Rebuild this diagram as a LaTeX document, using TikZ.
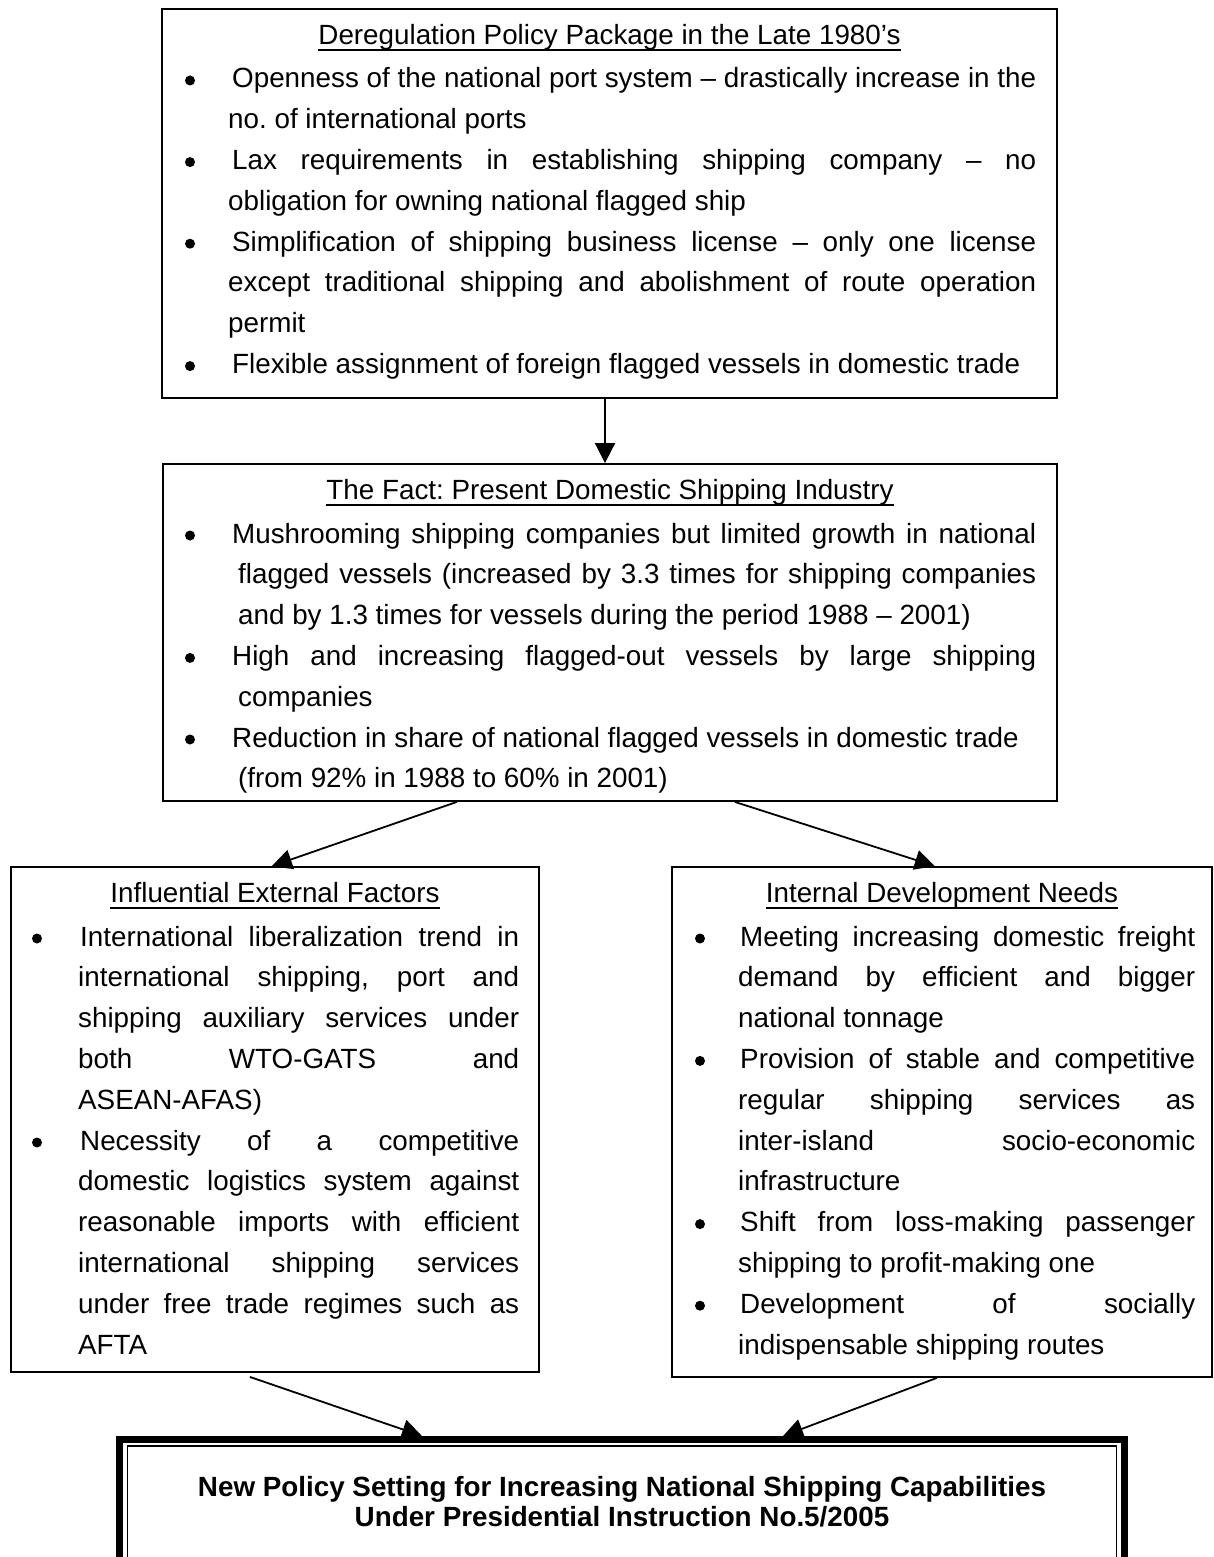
\documentclass[tikz,border=0pt]{standalone}
\usepackage{fontspec}
\setmainfont{Liberation Sans}
\usetikzlibrary{arrows.meta,calc}
\frenchspacing

% underlined heading with a fixed rule offset
\newcommand\hd[1]{\setbox2\hbox{#1}\rlap{\rule[-6.5pt]{\wd2}{2pt}}\box2}
% lines of a bulleted body: first line of an item / continuation; "x" = ragged end
\newlength\firstin
\newcommand\bl[1]{\hbox to\hsize{\hskip\firstin #1}}
\newcommand\blx[1]{\hbox to\hsize{\hskip\firstin #1\hfil}}
\newcommand\cl[1]{\hbox to\hsize{#1}}
\newcommand\clx[1]{\hbox to\hsize{#1\hfil}}
\newcommand\bodytext[3]{\vtop{\hsize=#1\relax\firstin=#2\relax
  \baselineskip=40.8pt\lineskiplimit=-1000pt\hbadness=10000 #3}}

\begin{document}
\begin{tikzpicture}[x=1pt,y=-1pt,
  every node/.style={font=\fontsize{27.8}{40.8}\selectfont, inner sep=0pt},
  box/.style={draw, line width=1.8pt, rectangle},
  arr/.style={line width=1.8pt, -{Triangle[length=20pt,width=20pt]}},
  dot/.style={fill=black}]
\useasboundingbox (0,0) rectangle (1214,1557);
\fill[white] (0,0) rectangle (1214,1557);
\clip (0,0) rectangle (1214,1557);

% ---------- boxes ----------
\node[box, minimum width=895pt, minimum height=389pt] (dereg) at (609.5,203.5) {};
\node[box, minimum width=894pt, minimum height=337pt] (fact) at (610,632.5) {};
\node[box, minimum width=528pt, minimum height=505pt] (ext) at (275,1119.5) {};
\node[box, minimum width=540pt, minimum height=510pt] (int) at (942,1122) {};
\node[draw, line width=7pt, minimum width=1005pt, minimum height=160pt] (policy) at (622,1519.5) {};
\draw[line width=1.8pt] ([shift={(11.5pt,-10pt)}]policy.north west)
  rectangle ([shift={(-11.5pt,10pt)}]policy.south east);

% ---------- headings ----------
\node[anchor=base] (h1) at (609.5,44.5) {\hd{Deregulation Policy Package in the Late 1980’s}};
\node[anchor=base] (h2) at (610,499.5) {\hd{The Fact: Present Domestic Shipping Industry}};
\node[anchor=base] (h3) at (275,902.5) {\hd{Influential External Factors}};
\node[anchor=base] (h4) at (942,902.5) {\hd{Internal Development Needs}};

% ---------- bodies ----------
\node[anchor=base west] (t1) at (228,88) {\bodytext{808pt}{4pt}{%
\bl{Openness of the national port system – drastically increase in the}
\clx{no. of international ports}
\bl{Lax requirements in establishing shipping company – no}
\clx{obligation for owning national flagged ship}
\bl{Simplification of shipping business license – only one license}
\cl{except traditional shipping and abolishment of route operation}
\clx{permit}
\blx{Flexible assignment of foreign flagged vessels in domestic trade}}};

\node[anchor=base west] (t2) at (238,543) {\bodytext{798pt}{-6pt}{%
\bl{Mushrooming shipping companies but limited growth in national}
\cl{flagged vessels (increased by 3.3 times for shipping companies}
\clx{and by 1.3 times for vessels during the period 1988 – 2001)}
\bl{High and increasing flagged-out vessels by large shipping}
\clx{companies}
\blx{Reduction in share of national flagged vessels in domestic trade}
\clx{(from 92\% in 1988 to 60\% in 2001)}}};

\node[anchor=base west] (t3) at (78,946) {\bodytext{441pt}{2pt}{%
\bl{International liberalization trend in}
\cl{international shipping, port and}
\cl{shipping auxiliary services under}
\cl{both WTO-GATS and}
\clx{ASEAN-AFAS)}
\bl{Necessity of a competitive}
\cl{domestic logistics system against}
\cl{reasonable imports with efficient}
\cl{international shipping services}
\cl{under free trade regimes such as}
\clx{AFTA}}};

\node[anchor=base west] (t4) at (738,946) {\bodytext{457pt}{2pt}{%
\bl{Meeting increasing domestic freight}
\cl{demand by efficient and bigger}
\clx{national tonnage}
\bl{Provision of stable and competitive}
\cl{regular shipping services as}
\cl{inter-island socio-economic}
\clx{infrastructure}
\bl{Shift from loss-making passenger}
\clx{shipping to profit-making one}
\bl{Development of socially}
\clx{indispensable shipping routes}}};

% ---------- bullets ----------
\foreach \k in {0,2,4,7} \fill[dot] (190,{88+\k*40.8-7.5}) circle (5pt);
\foreach \k in {0,3,5} \fill[dot] (190,{543+\k*40.8-7.5}) circle (5pt);
\foreach \k in {0,5} \fill[dot] (37,{946+\k*40.8-7.5}) circle (5pt);
\foreach \k in {0,3,7,9} \fill[dot] (700,{946+\k*40.8-7.5}) circle (5pt);

% ---------- final policy text ----------
\node[anchor=base, font=\fontsize{27.8}{30}\selectfont\bfseries] (pt) at (622,1496)
  {\vtop{\baselineskip=30pt\lineskiplimit=-1000pt
   \hbox to 0pt{\hss New Policy Setting for Increasing National Shipping Capabilities\hss}
   \hbox to 0pt{\hss Under Presidential Instruction No.5/2005\hss}}};

% ---------- connectors ----------
\draw[arr] ([xshift=-4.5pt]dereg.south) -- ([xshift=-5pt]fact.north);
\draw[arr] ([xshift=294.75pt]fact.south west) -- ([xshift=261.75pt]ext.north west);
\draw[arr] ([xshift=572.75pt]fact.south west) -- ([xshift=263.75pt]int.north west);
\draw[arr] ([xshift=239.75pt,yshift=-4pt]ext.south west) -- ([xshift=306pt]policy.north west);
\draw[arr] ([xshift=265.75pt]int.south west) -- ([xshift=667pt]policy.north west);
\end{tikzpicture}
\end{document}
